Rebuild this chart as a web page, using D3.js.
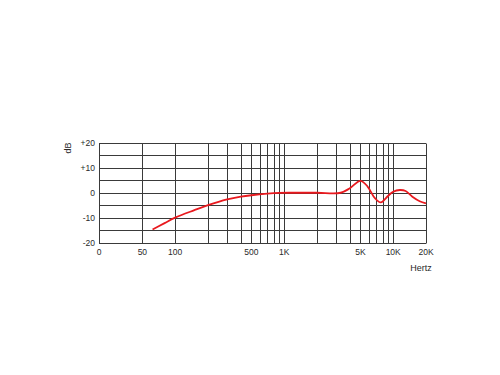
<!DOCTYPE html>
<html>
<head>
<meta charset="utf-8">
<script src="https://cdn.jsdelivr.net/npm/d3@7"></script>
<style>
  body { margin: 0; background: #fff; }
  text { font-family: "Liberation Sans", Arial, sans-serif; fill: #2a2a2a; }
</style>
</head>
<body>
<svg id="chart" width="500" height="375"></svg>
<script>
// frequency response
const freqs = [62, 80, 100, 150, 200, 300, 400, 500, 700, 900, 1200, 2000, 3300, 4000, 5000, 5800, 6800, 7700, 9000, 10000, 11500, 13000, 15000, 17500, 20000]
const levels = [-14.8, -12.2, -10, -7, -5, -2.7, -1.6, -1, -0.35, -0.05, 0, 0, 0, 1.8, 4.8, 2.6, -2.2, -3.9, -1.2, 0.4, 1.1, 0.7, -1.6, -3.4, -4.3]

const xGrid = [20, 50, 100, 200, 300, 400, 500, 600, 700, 800, 900, 1000, 2000, 3000, 4000, 5000, 6000, 7000, 8000, 9000, 10000, 20000]
const xTicks = [20, 50, 100, 500, 1000, 5000, 10000, 20000]
const xTickLabels = ["0", "50", "100", "500", "1K", "5K", "10K", "20K"]
const yGrid = [-20, -15, -10, -5, 0, 5, 10, 15, 20]
const yTicks = [-20, -10, 0, 10, 20]
const yTickLabels = ["-20", "-10", "0", "+10", "+20"]

const svg = d3.select("#chart")

const x = d3.scaleLog().domain([20, 20000]).range([99, 426])
const y = d3.scaleLinear().domain([-20, 20]).range([242.5, 143])

const grid = svg.append("g")
  .attr("stroke", "#3a3a3a")
  .attr("stroke-width", 1)

grid.selectAll("line.h")
  .data(yGrid)
  .enter().append("line")
  .attr("class", "h")
  .attr("x1", x(20))
  .attr("x2", x(20000))
  .attr("y1", d => Math.round(y(d)) + 0.5)
  .attr("y2", d => Math.round(y(d)) + 0.5)

grid.selectAll("line.v")
  .data(xGrid)
  .enter().append("line")
  .attr("class", "v")
  .attr("x1", d => Math.round(x(d)) + 0.5)
  .attr("x2", d => Math.round(x(d)) + 0.5)
  .attr("y1", Math.round(y(20)) + 0.5)
  .attr("y2", Math.round(y(-20)) + 0.5)

const line = d3.line()
  .x((d, i) => x(freqs[i]))
  .y(d => y(d))
  .curve(d3.curveCatmullRom.alpha(0.5))

svg.append("path")
  .datum(levels)
  .attr("d", line)
  .attr("fill", "none")
  .attr("stroke", "#e8191e")
  .attr("stroke-width", 1.8)

svg.append("g")
  .selectAll("text")
  .data(yTicks)
  .enter().append("text")
  .attr("x", 95)
  .attr("y", d => y(d) + 3)
  .attr("text-anchor", "end")
  .attr("font-size", 8.5)
  .text((d, i) => yTickLabels[i])

svg.append("g")
  .selectAll("text")
  .data(xTicks)
  .enter().append("text")
  .attr("x", d => x(d))
  .attr("y", 255)
  .attr("text-anchor", "middle")
  .attr("font-size", 8.5)
  .text((d, i) => xTickLabels[i])

svg.append("text")
  .attr("transform", "translate(71,148) rotate(-90)")
  .attr("text-anchor", "middle")
  .attr("font-size", 9)
  .text("dB")

svg.append("text")
  .attr("x", 421)
  .attr("y", 271)
  .attr("text-anchor", "middle")
  .attr("font-size", 9)
  .text("Hertz")
</script>
</body>
</html>
